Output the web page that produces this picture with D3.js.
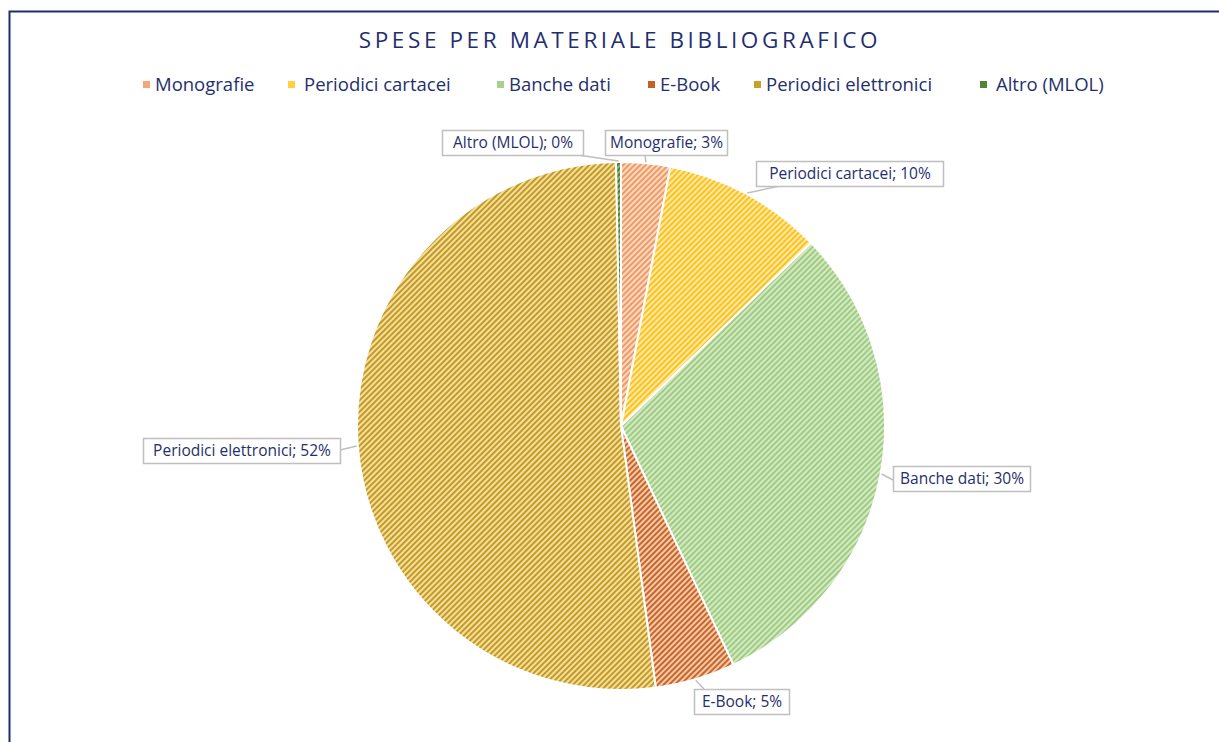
<!DOCTYPE html>
<html lang="en">
<head>
  <meta charset="UTF-8">
  <title>Spese per materiale bibliografico</title>
  <style>
    body {
      margin: 0;
      padding: 0;
      background: #fff;
      font-family: 'Open Sans', sans-serif;
    }
    svg {
      display: block;
    }
  </style>
</head>
<body>

<script src="https://cdnjs.cloudflare.com/ajax/libs/d3/7.8.5/d3.min.js"></script>

<script>
  // Chart data (percent of total spend)
  const categories = ['Monografie', 'Periodici cartacei', 'Banche dati', 'E-Book', 'Periodici elettronici', 'Altro (MLOL)'];
  const values = [3.0, 9.8, 30.2, 4.9, 51.8, 0.3];
  const percentLabels = ['3%', '10%', '30%', '5%', '52%', '0%'];

  // light base + darker stripe for each slice
  const baseColors = ['#fbd9c3', '#ffe9a8', '#d4e8c6', '#f6c9aa', '#f4dea0', '#8fb77a'];
  const stripeColors = ['#f19a63', '#ffc21a', '#9fcd80', '#c8662a', '#c49b22', '#4e7a32'];
  const legendColors = ['#f4a57a', '#ffd13f', '#a9d18e', '#c65f24', '#c9a12a', '#548235'];

  const width = 1219, height = 742;
  const cx = 621, cy = 426, radius = 264;
  const navy = '#1f2f6e';

  const svg = d3.select('body').append('svg')
    .attr('width', width)
    .attr('height', height);

  // hatch patterns
  const defs = svg.append('defs');
  categories.forEach((c, i) => {
    const p = defs.append('pattern')
      .attr('id', 'hatch' + i)
      .attr('patternUnits', 'userSpaceOnUse')
      .attr('width', 4)
      .attr('height', 4)
      .attr('patternTransform', 'rotate(45)');
    p.append('rect').attr('width', 4).attr('height', 4).attr('fill', baseColors[i]);
    p.append('rect').attr('width', 2).attr('height', 4).attr('fill', stripeColors[i]);
  });

  // frame (only left and top edges are visible in the picture)
  svg.append('rect')
    .attr('x', 9.5).attr('y', 11.5)
    .attr('width', width + 20).attr('height', height + 20)
    .attr('fill', 'none')
    .attr('stroke', navy)
    .attr('stroke-width', 2);

  // title
  svg.append('text')
    .attr('x', 620).attr('y', 48)
    .attr('text-anchor', 'middle')
    .attr('fill', navy)
    .style('font-size', '22.5px')
    .style('letter-spacing', '3.6px')
    .text('SPESE PER MATERIALE BIBLIOGRAFICO');

  // legend
  const legendX = [143, 288, 497, 648, 754, 980];
  const legend = svg.append('g').attr('class', 'legend');
  categories.forEach((c, i) => {
    const g = legend.append('g').attr('transform', `translate(${legendX[i]},85)`);
    g.append('rect')
      .attr('x', 0).attr('y', -4)
      .attr('width', 7).attr('height', 7)
      .attr('fill', legendColors[i]);
    g.append('text')
      .attr('x', i === 1 || i === 5 ? 16 : 12)
      .attr('y', 6)
      .attr('fill', navy)
      .style('font-size', '18.5px')
      .text(c);
  });

  // pie
  const pie = d3.pie().sort(null).value(d => d);
  const arcs = pie(values);
  const arc = d3.arc().innerRadius(0).outerRadius(radius);

  const chart = svg.append('g').attr('transform', `translate(${cx},${cy})`);

  chart.selectAll('path.slice')
    .data(arcs)
    .enter().append('path')
    .attr('class', 'slice')
    .attr('d', arc)
    .attr('fill', (d, i) => `url(#hatch${i})`)
    .attr('stroke', '#fff')
    .attr('stroke-width', 2);

  // data label boxes: left, top, width and where the leader leaves the box
  const boxes = [
    { x: 605, y: 130, w: 122, pointerFrom: [645, 155] },
    { x: 756, y: 161, w: 187, pointerFrom: [780, 186] },
    { x: 893, y: 466, w: 137, pointerFrom: [893, 480] },
    { x: 694, y: 689, w: 95, pointerFrom: [704, 689] },
    { x: 143, y: 438, w: 197, pointerFrom: [340, 450] },
    { x: 442, y: 130, w: 141, pointerFrom: [578, 155] }
  ];

  const labels = svg.append('g').attr('class', 'labels');
  arcs.forEach((d, i) => {
    const b = boxes[i];
    const mid = (d.startAngle + d.endAngle) / 2;
    const ex = cx + Math.sin(mid) * (radius + 1);
    const ey = cy - Math.cos(mid) * (radius + 1);

    labels.append('line')
      .attr('x1', b.pointerFrom[0]).attr('y1', b.pointerFrom[1])
      .attr('x2', ex).attr('y2', ey)
      .attr('stroke', '#bfbfbf')
      .attr('stroke-width', 1.5);

    labels.append('rect')
      .attr('x', b.x + 0.5).attr('y', b.y + 0.5)
      .attr('width', b.w).attr('height', 25)
      .attr('fill', '#fff')
      .attr('stroke', '#bfbfbf')
      .attr('stroke-width', 1.5);

    labels.append('text')
      .attr('x', b.x + b.w / 2 + 0.5)
      .attr('y', b.y + 18)
      .attr('text-anchor', 'middle')
      .attr('fill', navy)
      .style('font-size', '15.5px')
      .text(`${categories[i]}; ${percentLabels[i]}`);
  });
</script>

</body>
</html>
